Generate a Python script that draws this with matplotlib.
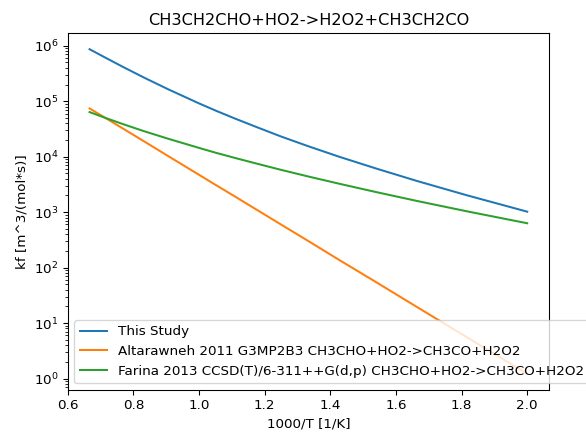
import matplotlib
matplotlib.use("Agg")
import matplotlib.pyplot as plt
import numpy as np

# temperatures [K] and rate constants kf [m^3/(mol*s)]
temperature = [1500, 1400, 1300, 1200, 1100, 1000, 950, 900, 850, 800, 750, 700, 650, 600, 550, 500]

kf_this_study = [8.65e5, 6.12e5, 4.13e5, 2.65e5, 1.61e5, 9.14e4, 6.7e4, 4.83e4, 3.4e4, 2.31e4,
                 1.54e4, 9910, 6150, 3610, 2000, 1020]
kf_altarawneh = [7.41e4, 5.02e4, 3.19e4, 1.88e4, 1.0e4, 4720, 3050, 1890, 1100, 598,
                 301, 136, 55.3, 19.1, 5.47, 1.22]
kf_farina = [6.37e4, 5.01e4, 3.85e4, 2.87e4, 2.08e4, 1.44e4, 1.17e4, 9440, 7480, 5790,
             4390, 3240, 2310, 1580, 1030, 631]

labels = [
    "This Study",
    "Altarawneh 2011 G3MP2B3 CH3CHO+HO2->CH3CO+H2O2",
    "Farina 2013 CCSD(T)/6-311++G(d,p) CH3CHO+HO2->CH3CO+H2O2",
]

inv_t = 1000.0 / np.array(temperature)

dpi = 97
fig = plt.figure(figsize=(586 / dpi, 433 / dpi), dpi=dpi)
ax = fig.add_axes([0.1155, 0.0993, 0.8215, 0.8245])

for kf, label in zip([kf_this_study, kf_altarawneh, kf_farina], labels):
    ax.plot(inv_t, kf, label=label)

ax.set_yscale("log")
ax.set_xlabel("1000/T [1/K]")
ax.set_ylabel("kf [m^3/(mol*s)]")
ax.set_title("CH3CH2CHO+HO2->H2O2+CH3CH2CO")
ax.legend(loc="lower left")

fig.savefig("out.png", dpi=dpi)
